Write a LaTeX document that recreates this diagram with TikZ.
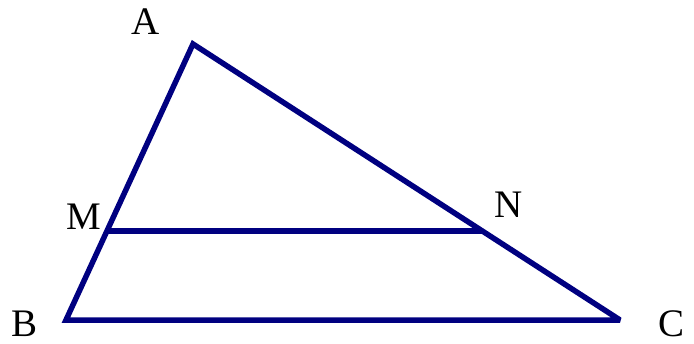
\documentclass[tikz,border=0pt]{standalone}
\usepackage{fontspec}
\setmainfont{Liberation Serif}
\usetikzlibrary{positioning}

\begin{document}
\begin{tikzpicture}[
    x=1pt, y=-1pt,
    side/.style={draw=blue!50!black, line width=5.5pt, miter limit=2},
    vlabel/.style={font=\fontsize{39}{40}\selectfont, text=black, inner sep=0pt}
]
    \useasboundingbox (0,0) rectangle (694,343);

    % Vertices
    \coordinate (A) at (193, 44);
    \coordinate (B) at (66, 320);
    \coordinate (C) at (620, 320);
    \coordinate (M) at (107, 231);
    \coordinate (N) at (483, 231);

    % Triangle ABC
    \draw[side] (A) -- (B) -- (C) -- cycle;

    % Segment MN
    \draw[side] (M) -- (N);

    % Labels
    \node[vlabel] (labA) at (146, 22) {A};
    \node[vlabel] (labB) at (25, 324) {B};
    \node[vlabel] (labC) at (672, 324) {C};
    \node[vlabel] (labM) at (84, 217) {M};
    \node[vlabel] (labN) at (509, 205) {N};

\end{tikzpicture}
\end{document}
